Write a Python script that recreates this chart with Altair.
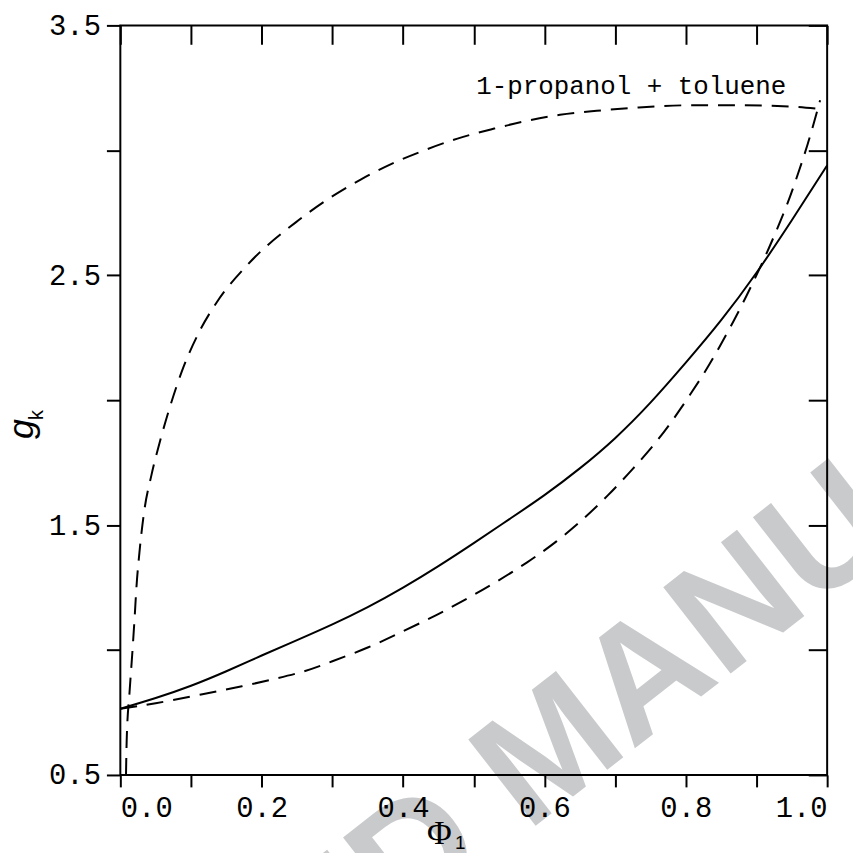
import altair as alt
import pandas as pd

# ---- data ----
solid_x = [0.0, 0.05, 0.1, 0.15, 0.2, 0.25, 0.3, 0.35, 0.4, 0.45, 0.5, 0.55, 0.6, 0.65, 0.7, 0.75, 0.8, 0.85, 0.9, 0.95, 1.0]
solid_y = [0.765, 0.808, 0.857, 0.915, 0.978, 1.04, 1.103, 1.172, 1.25, 1.336, 1.428, 1.523, 1.62, 1.727, 1.848, 1.99, 2.15, 2.32, 2.51, 2.72, 2.94]

low_x = [0.0, 0.05, 0.111, 0.172, 0.219, 0.26, 0.30, 0.35, 0.40, 0.447, 0.49, 0.53, 0.575, 0.617, 0.655, 0.69, 0.725, 0.76, 0.79, 0.824, 0.847, 0.871, 0.894, 0.917, 0.94, 0.955, 0.973, 0.99]
low_y = [0.765, 0.787, 0.82, 0.855, 0.885, 0.915, 0.955, 1.01, 1.075, 1.14, 1.205, 1.27, 1.35, 1.435, 1.525, 1.62, 1.725, 1.84, 1.955, 2.10, 2.21, 2.335, 2.465, 2.605, 2.76, 2.875, 3.03, 3.20]

up_x = [0.008, 0.009, 0.013, 0.017, 0.020, 0.023, 0.027, 0.034, 0.044, 0.058, 0.072, 0.087, 0.111, 0.136, 0.181, 0.252, 0.294, 0.34, 0.383, 0.43, 0.477, 0.529, 0.575, 0.622, 0.674, 0.726, 0.8, 0.88, 0.95, 0.99]
up_y = [0.5, 0.64, 0.83, 0.99, 1.12, 1.26, 1.39, 1.56, 1.70, 1.855, 1.99, 2.115, 2.27, 2.39, 2.545, 2.72, 2.805, 2.883, 2.945, 3.0, 3.047, 3.087, 3.118, 3.142, 3.158, 3.17, 3.18, 3.18, 3.175, 3.165]

x_ticks = [0.0, 0.1, 0.2, 0.3, 0.4, 0.5, 0.6, 0.7, 0.8, 0.9, 1.0]
y_ticks = [0.5, 1.0, 1.5, 2.0, 2.5, 3.0, 3.5]

note_text = ["1-propanol + toluene"]
note_x = [0.723]
note_y = [3.226]

# ---- tables ----
df_solid = pd.DataFrame({"x": solid_x, "y": solid_y})
df_low = pd.DataFrame({"x": low_x, "y": low_y})
df_up = pd.DataFrame({"x": up_x, "y": up_y})
df_note = pd.DataFrame({"x": note_x, "y": note_y, "t": note_text})

W, H = 711, 754
xs = alt.Scale(domain=[0, 1], nice=False, zero=False)
ys = alt.Scale(domain=[0.5, 3.5], nice=False, zero=False)

MONO = "Liberation Mono"

watermark = alt.Chart(pd.DataFrame({"t": ["ACCEPTED MANUSCRIPT"]})).mark_text(
    font="Liberation Sans", fontWeight="bold", fontSize=160, color="#c9cacc",
    align="left", baseline="alphabetic", angle=322, dx=-924
).encode(x=alt.value(409), y=alt.value(812), text="t:N")

solid = alt.Chart(df_solid).mark_line(color="black", strokeWidth=2, interpolate="natural").encode(
    x=alt.X("x:Q", scale=xs, axis=alt.Axis(
        orient="bottom", values=x_ticks, format=".1f",
        labelExpr="round(datum.value*10) % 2 == 0 ? datum.label : ''",
        tickSize=12, tickWidth=2, labelPadding=7, title=None, zindex=1)),
    y=alt.Y("y:Q", scale=ys, axis=alt.Axis(
        orient="left", values=y_ticks, format=".1f",
        labelExpr="round(datum.value*2) % 2 == 1 ? datum.label : ''",
        tickSize=14, tickWidth=2, labelPadding=6, title=None, zindex=1)),
)

low = alt.Chart(df_low).mark_line(
    color="black", strokeWidth=2, strokeDash=[17, 10], interpolate="natural"
).encode(
    x=alt.X("x:Q", scale=xs, axis=alt.Axis(
        orient="top", values=x_ticks, labels=False, offset=-19,
        tickSize=19, tickWidth=2, title=None, zindex=1)),
    y=alt.Y("y:Q", scale=ys, axis=alt.Axis(
        orient="right", values=y_ticks, labels=False, offset=-19,
        tickSize=19, tickWidth=2, title=None, zindex=1)),
)

up = alt.Chart(df_up).mark_line(
    color="black", strokeWidth=2, strokeDash=[17, 10], interpolate="monotone"
).encode(
    x=alt.X("x:Q", scale=xs, axis=None),
    y=alt.Y("y:Q", scale=ys, axis=None),
)

frame = alt.Chart(pd.DataFrame({"f": [1]})).mark_rect(
    fillOpacity=0, stroke="black", strokeWidth=2
).encode(x=alt.value(0), x2=alt.value(W), y=alt.value(0), y2=alt.value(H))

note = alt.Chart(df_note).mark_text(
    font=MONO, fontSize=26, color="black", align="center", baseline="alphabetic"
).encode(
    x=alt.X("x:Q", scale=xs, axis=None),
    y=alt.Y("y:Q", scale=ys, axis=None),
    text="t:N",
)

g_txt = alt.Chart(pd.DataFrame({"t": ["g"]})).mark_text(
    font="Liberation Sans", fontStyle="italic", fontSize=36, color="black",
    align="center", baseline="alphabetic", angle=270
).encode(x=alt.value(-88), y=alt.value(406), text="t:N")

k_txt = alt.Chart(pd.DataFrame({"t": ["k"]})).mark_text(
    font="Liberation Sans", fontSize=20, color="black",
    align="center", baseline="alphabetic", angle=270
).encode(x=alt.value(-78), y=alt.value(392), text="t:N")

phi_txt = alt.Chart(pd.DataFrame({"t": ["Φ"]})).mark_text(
    font="Liberation Serif", fontSize=34, color="black",
    align="center", baseline="alphabetic"
).encode(x=alt.value(321), y=alt.value(823), text="t:N")

one_txt = alt.Chart(pd.DataFrame({"t": ["1"]})).mark_text(
    font="Liberation Sans", fontSize=19, color="black",
    align="center", baseline="alphabetic"
).encode(x=alt.value(342), y=alt.value(828), text="t:N")

chart = alt.layer(
    watermark, solid, low, up, frame, note, g_txt, k_txt, phi_txt, one_txt
).resolve_axis(x="independent", y="independent").properties(
    width=W, height=H,
    padding={"left": 113, "top": 15, "right": 26, "bottom": 76},
    autosize="none",
).configure_view(strokeWidth=0).configure_axis(
    grid=False, domain=False, tickColor="black", labelColor="black",
    labelFont=MONO, labelFontSize=29, labelOverlap=False,
)

chart.save("out.html", embed_options={"renderer": "svg", "actions": False})
